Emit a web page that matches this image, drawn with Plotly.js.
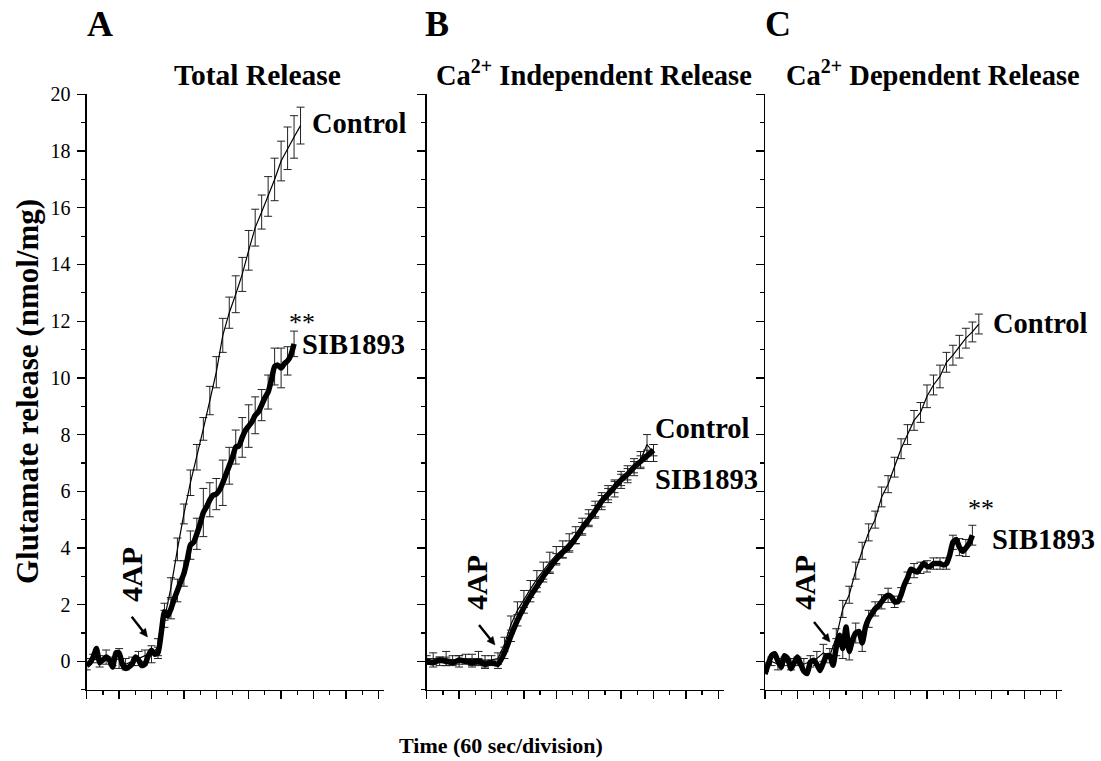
<!DOCTYPE html>
<html>
<head>
<meta charset="utf-8">
<script src="https://cdn.plot.ly/plotly-3.0.1.min.js"></script>
<style>html,body{margin:0;padding:0;background:#fff;}</style>
</head>
<body>
<div id="chart" style="width:1101px;height:761px;"></div>
<script>
// ---------------- DATA (time in seconds, release in nmol/mg) ----------------
const panelTitles = ['Total Release', 'Ca<sup>2+</sup> Independent Release', 'Ca<sup>2+</sup> Dependent Release'];
const panelLetters = ['A', 'B', 'C'];
const seriesNames = ['Control', 'SIB1893'];

// Panel A - Total release
const ctrlA_step = 12;
const ctrlA = [-0.1, 0.1, 0.0, 0.15, 0.0, 0.1, -0.1, 0.0, 0.1, 0.2, 0.25,
  0.5, 1.5, 2.6, 3.95, 5.2, 6.3, 7.2, 8.2, 9.2, 10.2, 11.5, 12.3, 12.95, 13.65,
  14.5, 15.3, 15.85, 16.4, 17.0, 17.65, 18.1, 18.5, 18.9];
const ctrlA_err = [0.2, 0.15, 0.2, 0.25, 0.15, 0.35, 0.2, 0.15, 0.25, 0.2, 0.3,
  0.3, 0.3, 0.35, 0.4, 0.35, 0.45, 0.45, 0.4, 0.5, 0.55, 0.6, 0.55, 0.65, 0.6,
  0.7, 0.65, 0.6, 0.7, 0.75, 0.7, 0.75, 0.75, 0.65];
const sibA_step = 6;
const sibA = [-0.15, -0.05, 0.15, 0.45, -0.05, 0.05, 0.15, 0.05, -0.2, 0.3,
  0.3, -0.1, -0.25, -0.2, -0.1, 0.15, 0.05, -0.15, -0.1, 0.2,
  0.39, 0.25, 0.3, 1.0, 1.75, 1.6, 1.85, 2.2, 2.5, 2.8,
  3.1, 3.56, 4.1, 4.2, 4.5, 4.85, 5.25, 5.45, 5.7, 5.86,
  5.9, 6.05, 6.3, 6.6, 6.9, 7.2, 7.56, 7.6, 7.9, 8.15,
  8.3, 8.45, 8.68, 8.8, 9.04, 9.3, 9.5, 9.92, 10.4, 10.45,
  10.35, 10.5, 10.6, 10.8, 11.2];
const sibA_errStart = 132, sibA_errStep = 12;
const sibA_err = [0.2, 0.3, 0.35, 0.4, 0.45, 0.5, 0.55, 0.85, 0.6, 0.55, 0.8,
  0.65, 0.6, 0.7, 0.75, 0.65, 0.55, 0.6, 0.65, 0.7, 0.5, 0.45];

// Panel B - Ca2+ independent release
const ctrlB_step = 12;
const ctrlB = [0.05, 0.1, 0.0, 0.1, 0.05, 0.0, 0.1, 0.05, 0.1, 0.0, 0.05, 0.1,
  0.6, 1.3, 1.8, 2.2, 2.55, 2.9, 3.2, 3.5, 3.75, 3.95, 4.2, 4.45, 4.75, 5.05,
  5.35, 5.65, 5.9, 6.1, 6.4, 6.6, 6.85, 7.1, 7.65, 7.35];
const ctrlB_err = [0.15, 0.2, 0.15, 0.25, 0.15, 0.2, 0.15, 0.2, 0.25, 0.2, 0.15, 0.2,
  0.25, 0.3, 0.3, 0.3, 0.3, 0.3, 0.3, 0.35, 0.3, 0.3, 0.3, 0.3, 0.3, 0.3,
  0.3, 0.3, 0.3, 0.3, 0.3, 0.3, 0.3, 0.3, 0.35, 0.3];
const sibB_step = 12;
const sibB = [0.0, -0.05, 0.05, 0.0, -0.05, 0.05, 0.0, -0.05, 0.0, -0.1, -0.05, -0.1,
  0.3, 0.9, 1.45, 1.9, 2.3, 2.65, 3.0, 3.3, 3.6, 3.85, 4.05, 4.35, 4.7, 5.0,
  5.3, 5.65, 5.9, 6.15, 6.4, 6.6, 6.85, 7.05, 7.25, 7.45];
const sibB_errStart = 0, sibB_errStep = 12;
const sibB_err = [0.1, 0.15, 0.1, 0.15, 0.1, 0.15, 0.1, 0.15, 0.1, 0.15, 0.1, 0.15,
  0.2, 0.2, 0.2, 0.2, 0.2, 0.2, 0.2, 0.2, 0.2, 0.2, 0.2, 0.2, 0.2, 0.2,
  0.2, 0.2, 0.2, 0.2, 0.2, 0.2, 0.2, 0.2, 0.2, 0.2];

// Panel C - Ca2+ dependent release
const ctrlC_step = 12;
const ctrlC = [-0.2, 0.0, -0.1, 0.0, -0.1, 0.0, -0.1, 0.0, 0.1, 0.3, 0.2,
  0.85, 1.85, 2.35, 3.2, 3.9, 4.55, 5.0, 5.8, 6.25, 6.85, 7.5, 8.0, 8.5, 8.78,
  9.35, 9.75, 10.05, 10.55, 10.8, 11.1, 11.4, 11.62, 11.9];
const ctrlC_err = [0.15, 0.15, 0.2, 0.15, 0.2, 0.15, 0.2, 0.2, 0.25, 0.3, 0.25,
  0.3, 0.3, 0.3, 0.3, 0.3, 0.3, 0.3, 0.35, 0.3, 0.35, 0.35, 0.35, 0.35, 0.35,
  0.4, 0.35, 0.4, 0.35, 0.35, 0.4, 0.35, 0.35, 0.35];
const sibC_step = 6;
const sibC = [-0.45, -0.1, 0.2, 0.27, 0.0, -0.2, 0.2, 0.1, -0.26, -0.05,
  0.15, -0.1, -0.35, -0.43, -0.02, 0.04, -0.1, -0.32, -0.05, 0.2,
  0.2, -0.14, 0.5, 0.92, 0.45, 1.21, 0.35, 0.75, 1.0, 1.05,
  0.65, 1.2, 1.5, 1.68, 1.85, 1.95, 2.1, 2.25, 2.33, 2.27,
  2.1, 2.1, 2.35, 2.7, 2.95, 3.25, 3.2, 3.15, 3.3, 3.45,
  3.35, 3.35, 3.45, 3.45, 3.45, 3.4, 3.45, 3.75, 4.2, 4.3,
  4.03, 3.88, 4.0, 4.15, 4.45];
const sibC_errStart = 132, sibC_errStep = 12;
const sibC_err = [0.3, 0.35, 0.3, 0.35, 0.3, 0.3, 0.25, 0.25, 0.25, 0.2, 0.25,
  0.2, 0.25, 0.2, 0.2, 0.2, 0.2, 0.2, 0.25, 0.3, 0.3, 0.35];

const xTickStep = 60;          // 60 s per division
const yTicks = [0, 2, 4, 6, 8, 10, 12, 14, 16, 18, 20];

// ---------------- BUILD ----------------
const W = 1101, H = 761;
const FONT = 'Liberation Serif, serif';
function times(start, step, n) { const a = []; for (let i = 0; i < n; i++) a.push(start + i * step); return a; }
function px(x) { return x / W; }
function py(y) { return 1 - y / H; }

const panels = [
  {ctrl: ctrlA, ctrlStep: ctrlA_step, ctrlErr: ctrlA_err, sib: sibA, sibStep: sibA_step, sibErr: sibA_err, sibErrStart: sibA_errStart, sibErrStep: sibA_errStep},
  {ctrl: ctrlB, ctrlStep: ctrlB_step, ctrlErr: ctrlB_err, sib: sibB, sibStep: sibB_step, sibErr: sibB_err, sibErrStart: sibB_errStart, sibErrStep: sibB_errStep},
  {ctrl: ctrlC, ctrlStep: ctrlC_step, ctrlErr: ctrlC_err, sib: sibC, sibStep: sibC_step, sibErr: sibC_err, sibErrStart: sibC_errStart, sibErrStep: sibC_errStep}
];

const traces = [];
panels.forEach((p, i) => {
  const xa = i === 0 ? 'x' : 'x' + (i + 1);
  const ya = i === 0 ? 'y' : 'y' + (i + 1);
  traces.push({
    type: 'scatter', mode: 'lines', name: seriesNames[0], xaxis: xa, yaxis: ya,
    x: times(0, p.ctrlStep, p.ctrl.length), y: p.ctrl,
    line: {color: '#000', width: 1.2},
    error_y: {type: 'data', array: p.ctrlErr, visible: true, color: '#222', thickness: 1, width: 4},
    showlegend: false, hoverinfo: 'skip'
  });
  const eT = times(p.sibErrStart, p.sibErrStep, p.sibErr.length);
  const eY = eT.map(t => p.sib[Math.round(t / p.sibStep)]);
  traces.push({
    type: 'scatter', mode: 'markers', name: seriesNames[1] + ' SEM', xaxis: xa, yaxis: ya,
    x: eT, y: eY, marker: {size: 1, color: 'rgba(0,0,0,0)'},
    error_y: {type: 'data', array: p.sibErr, visible: true, color: '#222', thickness: 1, width: 4},
    showlegend: false, hoverinfo: 'skip'
  });
  traces.push({
    type: 'scatter', mode: 'lines', name: seriesNames[1], xaxis: xa, yaxis: ya,
    x: times(0, p.sibStep, p.sib.length), y: p.sib,
    line: {color: '#000', width: 5.5, shape: 'spline', smoothing: 0.5},
    showlegend: false, hoverinfo: 'skip'
  });
});

const yDom = [(H - 689.7) / H, (H - 94.4) / H];
const xDoms = [[86.7 / W, 383.7 / W], [426.7 / W, 723.7 / W], [765 / W, 1062 / W]];

const layout = {
  width: W, height: H,
  margin: {l: 0, r: 0, t: 0, b: 0},
  paper_bgcolor: '#fff', plot_bgcolor: 'rgba(0,0,0,0)',
  showlegend: false,
  font: {family: FONT, color: '#000', size: 20},
  annotations: [],
  shapes: []
};

xDoms.forEach((dom, i) => {
  const xk = i === 0 ? 'xaxis' : 'xaxis' + (i + 1);
  const yk = i === 0 ? 'yaxis' : 'yaxis' + (i + 1);
  const xa = i === 0 ? 'x' : 'x' + (i + 1);
  const ya = i === 0 ? 'y' : 'y' + (i + 1);
  layout[xk] = {
    domain: dom, anchor: ya, range: [0, 550],
    showline: true, linecolor: '#000', linewidth: 1.3,
    ticks: 'outside', ticklen: 8, tickwidth: 1.3, tickcolor: '#000',
    tickmode: 'linear', tick0: 0, dtick: xTickStep,
    showticklabels: false, showgrid: false, zeroline: false,
    minor: {ticks: 'outside', ticklen: 4, tickwidth: 1.2, tickcolor: '#000', dtick: xTickStep / 2, tick0: 0, showgrid: false},
    fixedrange: true
  };
  layout[yk] = {
    domain: yDom, anchor: xa, range: [-1, 20],
    showline: true, linecolor: '#000', linewidth: 1.3,
    ticks: 'outside', ticklen: 8, tickwidth: 1.3, tickcolor: '#000',
    tickmode: 'array', tickvals: yTicks, ticktext: yTicks.map(String),
    showticklabels: i === 0, ticklabelstandoff: 3,
    tickfont: {family: FONT, size: 20, color: '#000'},
    showgrid: false, zeroline: false,
    minor: {ticks: 'outside', ticklen: 4, tickwidth: 1.2, tickcolor: '#000', dtick: 1, tick0: 0, showgrid: false},
    fixedrange: true
  };
});

function ann(x, y, text, size, opts) {
  return Object.assign({
    xref: 'paper', yref: 'paper', x: px(x), y: py(y), text: text, showarrow: false,
    font: {family: FONT, size: size, color: '#000'}, xanchor: 'center', yanchor: 'middle'
  }, opts || {});
}
// arrow drawn as shapes: shaft line + filled head
function arrow(x0, y0, x1, y1) {
  const dx = x1 - x0, dy = y1 - y0, L = Math.hypot(dx, dy);
  const ux = dx / L, uy = dy / L, nx = -uy, ny = ux;
  const hl = 8, hw = 3.8;
  const bx = x1 - hl * ux, by = y1 - hl * uy;
  layout.shapes.push({type: 'line', xref: 'paper', yref: 'paper',
    x0: px(x0), y0: py(y0), x1: px(bx + ux), y1: py(by + uy), line: {color: '#000', width: 2.4}});
  const pts = [[x1, y1], [bx + hw * nx, by + hw * ny], [bx - hw * nx, by - hw * ny]];
  layout.shapes.push({type: 'path', xref: 'paper', yref: 'paper',
    path: 'M' + pts.map(p => px(p[0]) + ',' + py(p[1])).join(' L') + ' Z',
    fillcolor: '#000', line: {color: '#000', width: 0.5}});
}

const A = layout.annotations;
// panel letters
[[100, 24], [437, 24], [778, 24]].forEach((p, i) => A.push(ann(p[0], p[1], '<b>' + panelLetters[i] + '</b>', 36)));
// panel titles
A.push(ann(257, 75, '<b>' + panelTitles[0] + '</b>', 29.5));
A.push(ann(594, 73, '<b>' + panelTitles[1] + '</b>', 28.5));
A.push(ann(933, 73, '<b>' + panelTitles[2] + '</b>', 28.5));
// axis titles
A.push(ann(27, 392, '<b>Glutamate release (nmol/mg)</b>', 31, {textangle: -90}));
A.push(ann(501, 745, '<b>Time (60 sec/division)</b>', 22));
// series labels
A.push(ann(310, 123, '<b>' + seriesNames[0] + '</b>', 28.5, {xanchor: 'left'}));
A.push(ann(300, 344, '<b>' + seriesNames[1] + '</b>', 28.5, {xanchor: 'left'}));
A.push(ann(302, 322, '**', 26));
A.push(ann(653, 428, '<b>' + seriesNames[0] + '</b>', 28.5, {xanchor: 'left'}));
A.push(ann(653, 479, '<b>' + seriesNames[1] + '</b>', 28.5, {xanchor: 'left'}));
A.push(ann(991, 323, '<b>' + seriesNames[0] + '</b>', 28.5, {xanchor: 'left'}));
A.push(ann(981, 508, '**', 26));
A.push(ann(990, 539, '<b>' + seriesNames[1] + '</b>', 28.5, {xanchor: 'left'}));
// 4AP labels + arrows
[[131, 575], [476, 583], [804, 583]].forEach(p => A.push(ann(p[0], p[1], '<b>4AP</b>', 30, {textangle: -90})));
arrow(131.7, 616.7, 147.5, 637);
arrow(479, 625, 495, 645);
arrow(814, 622, 830, 642);

Plotly.newPlot('chart', traces, layout, {staticPlot: true, displayModeBar: false});
</script>
</body>
</html>
